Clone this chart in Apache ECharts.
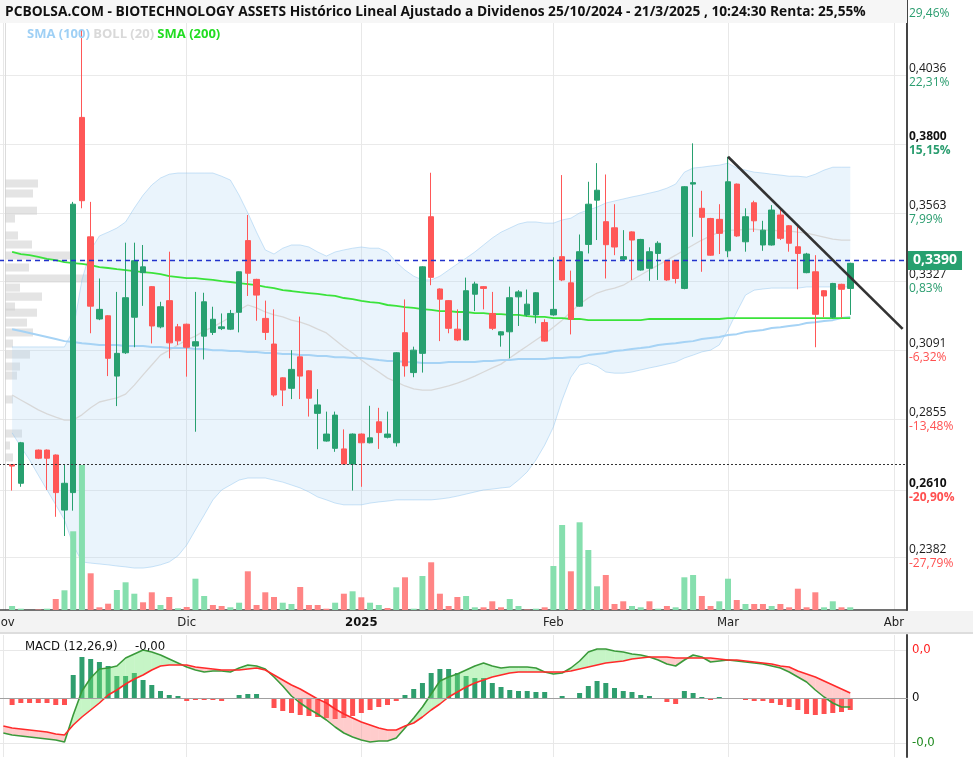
<!DOCTYPE html>
<html>
<head>
<meta charset="utf-8">
<title>BIOTECHNOLOGY ASSETS</title>
<script src="https://cdn.jsdelivr.net/npm/echarts@6/dist/echarts.min.js"></script>
<style>
html, body { margin: 0; padding: 0; background: #fff; }
#chart { width: 973px; height: 763px; }
</style>
</head>
<body>
<div id="chart"></div>
<script>
// sesiones BME 1/11/2024 - 21/3/2025 + hueco a la derecha hasta abril
var holidays = ['2024-12-25', '2024-12-26', '2025-01-01'];
var futureDays = ['2025-03-24', '2025-03-25', '2025-03-26', '2025-03-27', '2025-04-01', '2025-04-02'];
var monthNames = ['Ene', 'Feb', 'Mar', 'Abr', 'May', 'Jun', 'Jul', 'Ago', 'Sep', 'Oct', 'Nov', 'Dic'];

// [open, close, low, high], null = sin cotizacion
var candles = [
  null,
  [0.2699, 0.2694, 0.2610, 0.2701], [0.2635, 0.2774, 0.2623, 0.2777], null,
  [0.2749, 0.2721, 0.2718, 0.2751], [0.2749, 0.2721, 0.2612, 0.2751], [0.2732, 0.2603, 0.2520, 0.2734],
  [0.2543, 0.2635, 0.2454, 0.2698], [0.2603, 0.3593, 0.2541, 0.3601], [0.3891, 0.3605, 0.3579, 0.4191],
  [0.3481, 0.3243, 0.3150, 0.3601], [0.3199, 0.3232, 0.3195, 0.3338], [0.3210, 0.3064, 0.3003, 0.3212],
  [0.3003, 0.3081, 0.2900, 0.3292], [0.3083, 0.3272, 0.3079, 0.3461], [0.3205, 0.3399, 0.3102, 0.3461],
  [0.3358, 0.3378, 0.3244, 0.3453], [0.3310, 0.3175, 0.3115, 0.3312], [0.3172, 0.3241, 0.3167, 0.3258],
  [0.3262, 0.3117, 0.3064, 0.3430], [0.3172, 0.3124, 0.3110, 0.3182], [0.3181, 0.3102, 0.3001, 0.3183],
  [0.3106, 0.3121, 0.2812, 0.3292], [0.3140, 0.3258, 0.3060, 0.3289], [0.3153, 0.3198, 0.3144, 0.3241],
  [0.3166, 0.3172, 0.3161, 0.3218], [0.3164, 0.3218, 0.3161, 0.3230], [0.3222, 0.3361, 0.3153, 0.3362],
  [0.3468, 0.3356, 0.3278, 0.3556], [0.3335, 0.3281, 0.3193, 0.3337], [0.3201, 0.3153, 0.3127, 0.3262],
  [0.3113, 0.2938, 0.2932, 0.3232], [0.2997, 0.2955, 0.2900, 0.2999], [0.2961, 0.3026, 0.2924, 0.3092],
  [0.3069, 0.3003, 0.2924, 0.3207], [0.3021, 0.2927, 0.2864, 0.3023], [0.2875, 0.2904, 0.2752, 0.2958],
  [0.2780, 0.2804, 0.2778, 0.2881], [0.2755, 0.2869, 0.2743, 0.2881], [0.2753, 0.2701, 0.2700, 0.2820],
  [0.2701, 0.2804, 0.2610, 0.2806], [0.2804, 0.2774, 0.2623, 0.2806], [0.2774, 0.2791, 0.2772, 0.2901],
  [0.2846, 0.2809, 0.2753, 0.2894], [0.2793, 0.2804, 0.2789, 0.2881], [0.2774, 0.3083, 0.2761, 0.3085],
  [0.3152, 0.3038, 0.3001, 0.3266], [0.3015, 0.3092, 0.2999, 0.3104], [0.3081, 0.3378, 0.3015, 0.3380],
  [0.3550, 0.3342, 0.3315, 0.3701], [0.3302, 0.3267, 0.3123, 0.3304], [0.3262, 0.3167, 0.3150, 0.3264],
  [0.3164, 0.3127, 0.3123, 0.3232], [0.3127, 0.3296, 0.3125, 0.3341], [0.3284, 0.3319, 0.3226, 0.3327],
  [0.3310, 0.3304, 0.3232, 0.3312], [0.3218, 0.3167, 0.3161, 0.3292], [0.3144, 0.3155, 0.3104, 0.3157],
  [0.3155, 0.3272, 0.3064, 0.3310], [0.3275, 0.3292, 0.3175, 0.3298], [0.3213, 0.3250, 0.3207, 0.3300],
  [0.3213, 0.3289, 0.3184, 0.3291], [0.3187, 0.3123, 0.3121, 0.3198], [0.3213, 0.3232, 0.3210, 0.3411],
  [0.3413, 0.3333, 0.3329, 0.3693], [0.3323, 0.3198, 0.3146, 0.3365], [0.3243, 0.3430, 0.3241, 0.3489],
  [0.3455, 0.3593, 0.3424, 0.3670], [0.3607, 0.3641, 0.3470, 0.3734], [0.3533, 0.3454, 0.3338, 0.3695],
  [0.3512, 0.3446, 0.3418, 0.3593], [0.3404, 0.3413, 0.3401, 0.3504], [0.3498, 0.3470, 0.3333, 0.3500],
  [0.3367, 0.3472, 0.3365, 0.3474], [0.3373, 0.3430, 0.3330, 0.3445], [0.3424, 0.3459, 0.3333, 0.3466],
  [0.3399, 0.3333, 0.3330, 0.3401], [0.3399, 0.3338, 0.3321, 0.3401], [0.3304, 0.3653, 0.3301, 0.3655],
  [0.3662, 0.3667, 0.3481, 0.3802], [0.3579, 0.3548, 0.3361, 0.3639], [0.3544, 0.3418, 0.3416, 0.3546],
  [0.3541, 0.3493, 0.3422, 0.3593], [0.3433, 0.3670, 0.3411, 0.3756], [0.3662, 0.3484, 0.3481, 0.3664],
  [0.3464, 0.3550, 0.3430, 0.3579], [0.3598, 0.3536, 0.3498, 0.3605], [0.3453, 0.3504, 0.3433, 0.3536],
  [0.3453, 0.3573, 0.3451, 0.3590], [0.3556, 0.3476, 0.3470, 0.3573], [0.3519, 0.3459, 0.3430, 0.3521],
  [0.3447, 0.3424, 0.3301, 0.3516], [0.3358, 0.3422, 0.3356, 0.3426], [0.3361, 0.3215, 0.3102, 0.3418],
  [0.3296, 0.3278, 0.3205, 0.3298], [0.3205, 0.3321, 0.3201, 0.3323], [0.3318, 0.3301, 0.3203, 0.3320],
  [0.3304, 0.3390, 0.3213, 0.3392]
];

var volumes = [
  null, 4000, 1300, null, 500, 1300, 11000, 19700, 78700, 145000,
  36700, 2700, 6300, 20000, 27700, 16300, 7700, 17700, 5000, 13000,
  1700, 3000, 31300, 14000, 5000, 4000, 2700, 7300, 38700, 5000,
  17700, 13000, 7300, 6000, 23000, 5000, 5000, 1300, 7300, 16300,
  18700, 12700, 7300, 5000, 2000, 22700, 32700, 1300, 34000, 47700,
  16300, 4000, 13000, 14000, 2700, 2700, 8700, 2700, 11000, 4000,
  500, 1300, 2700, 44000, 85000, 38700, 87700, 60000, 23700, 35000,
  6000, 8700, 4000, 2700, 8700, 1300, 4000, 2700, 32700, 35000,
  14000, 4000, 8700, 31300, 10000, 6000, 6000, 6000, 4000, 6000,
  2700, 21300, 2700, 17700, 2700, 8700, 2700, 2700
];

var sma100 = [
  null, 0.3164, 0.3158, 0.3151, 0.3144, 0.3137, 0.3130, 0.3123, 0.3120, 0.3116,
  0.3113, 0.3110, 0.3110, 0.3110, 0.3106, 0.3106, 0.3106, 0.3103, 0.3103, 0.3099,
  0.3099, 0.3099, 0.3096, 0.3096, 0.3092, 0.3092, 0.3089, 0.3089, 0.3086, 0.3086,
  0.3082, 0.3082, 0.3079, 0.3079, 0.3075, 0.3075, 0.3072, 0.3072, 0.3068, 0.3068,
  0.3065, 0.3065, 0.3062, 0.3058, 0.3055, 0.3055, 0.3051, 0.3051, 0.3048, 0.3048,
  0.3048, 0.3051, 0.3051, 0.3051, 0.3051, 0.3055, 0.3055, 0.3058, 0.3058, 0.3062,
  0.3062, 0.3062, 0.3062, 0.3065, 0.3065, 0.3068, 0.3068, 0.3075, 0.3079, 0.3082,
  0.3089, 0.3092, 0.3096, 0.3099, 0.3103, 0.3110, 0.3113, 0.3116, 0.3120, 0.3123,
  0.3130, 0.3134, 0.3137, 0.3144, 0.3147, 0.3154, 0.3158, 0.3161, 0.3168, 0.3171,
  0.3175, 0.3178, 0.3185, 0.3188, 0.3192, 0.3195, 0.3202, 0.3206
];

var sma200 = [
  null, 0.3429, 0.3422, 0.3418, 0.3412, 0.3405, 0.3401, 0.3394, 0.3391, 0.3388,
  0.3384, 0.3377, 0.3374, 0.3370, 0.3367, 0.3363, 0.3360, 0.3357, 0.3353, 0.3346,
  0.3343, 0.3339, 0.3339, 0.3336, 0.3333, 0.3329, 0.3326, 0.3322, 0.3319, 0.3315,
  0.3309, 0.3305, 0.3298, 0.3295, 0.3291, 0.3288, 0.3285, 0.3281, 0.3278, 0.3271,
  0.3267, 0.3261, 0.3257, 0.3254, 0.3247, 0.3244, 0.3240, 0.3237, 0.3233, 0.3230,
  0.3226, 0.3226, 0.3223, 0.3223, 0.3219, 0.3219, 0.3216, 0.3216, 0.3213, 0.3213,
  0.3209, 0.3206, 0.3206, 0.3202, 0.3202, 0.3199, 0.3199, 0.3195, 0.3195, 0.3195,
  0.3195, 0.3195, 0.3195, 0.3195, 0.3199, 0.3199, 0.3199, 0.3199, 0.3199, 0.3199,
  0.3199, 0.3199, 0.3199, 0.3202, 0.3202, 0.3202, 0.3202, 0.3202, 0.3202, 0.3202,
  0.3202, 0.3202, 0.3202, 0.3202, 0.3202, 0.3202, 0.3202, 0.3202
];

var bollUp = [
  null, 0.3103, 0.3103, 0.3103, 0.3103, 0.3103, 0.3103, 0.3103, 0.3161, 0.3333,
  0.3436, 0.3484, 0.3497, 0.3511, 0.3532, 0.3580, 0.3624, 0.3659, 0.3683, 0.3696,
  0.3700, 0.3700, 0.3700, 0.3700, 0.3700, 0.3689, 0.3676, 0.3624, 0.3563, 0.3497,
  0.3436, 0.3422, 0.3442, 0.3453, 0.3453, 0.3446, 0.3429, 0.3415, 0.3429, 0.3436,
  0.3442, 0.3446, 0.3442, 0.3442, 0.3429, 0.3394, 0.3367, 0.3346, 0.3333, 0.3333,
  0.3346, 0.3367, 0.3388, 0.3408, 0.3429, 0.3453, 0.3477, 0.3497, 0.3511, 0.3525,
  0.3532, 0.3532, 0.3528, 0.3528, 0.3539, 0.3545, 0.3563, 0.3573, 0.3583, 0.3597,
  0.3604, 0.3611, 0.3618, 0.3624, 0.3631, 0.3638, 0.3648, 0.3662, 0.3703, 0.3717,
  0.3720, 0.3724, 0.3727, 0.3734, 0.3717, 0.3710, 0.3703, 0.3700, 0.3696, 0.3693,
  0.3689, 0.3689, 0.3686, 0.3696, 0.3710, 0.3720, 0.3720, 0.3720
];

var bollMid = [
  null, 0.2938, 0.2921, 0.2904, 0.2887, 0.2873, 0.2862, 0.2852, 0.2852, 0.2870,
  0.2894, 0.2914, 0.2921, 0.2928, 0.2941, 0.2972, 0.3007, 0.3041, 0.3075, 0.3092,
  0.3110, 0.3127, 0.3140, 0.3158, 0.3171, 0.3188, 0.3206, 0.3230, 0.3247, 0.3237,
  0.3223, 0.3213, 0.3206, 0.3195, 0.3188, 0.3178, 0.3164, 0.3151, 0.3127, 0.3103,
  0.3082, 0.3058, 0.3037, 0.3017, 0.2996, 0.2983, 0.2969, 0.2959, 0.2955, 0.2955,
  0.2962, 0.2969, 0.2979, 0.2990, 0.3003, 0.3017, 0.3031, 0.3044, 0.3065, 0.3086,
  0.3106, 0.3127, 0.3147, 0.3171, 0.3195, 0.3223, 0.3250, 0.3271, 0.3288, 0.3298,
  0.3305, 0.3315, 0.3333, 0.3350, 0.3367, 0.3384, 0.3401, 0.3418, 0.3436, 0.3453,
  0.3470, 0.3484, 0.3497, 0.3504, 0.3504, 0.3507, 0.3507, 0.3504, 0.3504, 0.3501,
  0.3501, 0.3497, 0.3494, 0.3487, 0.3480, 0.3473, 0.3470, 0.3470
];

var bollLow = [
  null, 0.2808, 0.2760, 0.2715, 0.2663, 0.2612, 0.2561, 0.2509, 0.2423, 0.2365,
  0.2361, 0.2358, 0.2355, 0.2351, 0.2348, 0.2344, 0.2344, 0.2348, 0.2355, 0.2365,
  0.2386, 0.2423, 0.2475, 0.2526, 0.2578, 0.2612, 0.2629, 0.2646, 0.2653, 0.2653,
  0.2653, 0.2646, 0.2639, 0.2629, 0.2619, 0.2605, 0.2588, 0.2578, 0.2567, 0.2561,
  0.2561, 0.2561, 0.2567, 0.2571, 0.2574, 0.2578, 0.2578, 0.2578, 0.2578, 0.2578,
  0.2581, 0.2585, 0.2591, 0.2598, 0.2605, 0.2612, 0.2615, 0.2619, 0.2622, 0.2646,
  0.2674, 0.2715, 0.2766, 0.2828, 0.2921, 0.2999, 0.3041, 0.3048, 0.3037, 0.3017,
  0.3013, 0.3013, 0.3017, 0.3024, 0.3031, 0.3037, 0.3044, 0.3051, 0.3065, 0.3075,
  0.3086, 0.3092, 0.3110, 0.3161, 0.3223, 0.3281, 0.3298, 0.3302, 0.3305, 0.3305,
  0.3305, 0.3305, 0.3309, 0.3309, 0.3309, 0.3309, 0.3309, 0.3309
];

// MACD (12,26,9)
var macdLine = [
  -0.0035, -0.0037, -0.0038, -0.0039, -0.0040, -0.0041, -0.0042, -0.0044, -0.0017, 0.0007,
  0.0020, 0.0029, 0.0030, 0.0032, 0.0040, 0.0044, 0.0048, 0.0046, 0.0043, 0.0039,
  0.0035, 0.0031, 0.0028, 0.0026, 0.0027, 0.0027, 0.0026, 0.0030, 0.0033, 0.0032,
  0.0029, 0.0021, 0.0012, 0.0002, -0.0005, -0.0011, -0.0016, -0.0022, -0.0029, -0.0035,
  -0.0039, -0.0042, -0.0044, -0.0043, -0.0043, -0.0040, -0.0030, -0.0020, -0.0009, 0.0004,
  0.0017, 0.0021, 0.0024, 0.0028, 0.0032, 0.0035, 0.0032, 0.0030, 0.0031, 0.0031,
  0.0031, 0.0030, 0.0026, 0.0024, 0.0025, 0.0030, 0.0037, 0.0046, 0.0049, 0.0049,
  0.0047, 0.0046, 0.0044, 0.0043, 0.0041, 0.0038, 0.0034, 0.0032, 0.0038, 0.0043,
  0.0041, 0.0036, 0.0037, 0.0038, 0.0037, 0.0036, 0.0035, 0.0034, 0.0032, 0.0030,
  0.0026, 0.0021, 0.0016, 0.0008, 0.0001, -0.0005, -0.0009, -0.0009
];
var signalLine = [
  -0.0028, -0.0030, -0.0031, -0.0032, -0.0033, -0.0034, -0.0036, -0.0037, -0.0027, -0.0019,
  -0.0012, -0.0005, 0.0003, 0.0008, 0.0014, 0.0019, 0.0023, 0.0028, 0.0032, 0.0033,
  0.0033, 0.0033, 0.0031, 0.0030, 0.0029, 0.0028, 0.0028, 0.0028, 0.0029, 0.0030,
  0.0028, 0.0023, 0.0018, 0.0013, 0.0009, 0.0004, -0.0001, -0.0005, -0.0011, -0.0016,
  -0.0020, -0.0024, -0.0027, -0.0030, -0.0032, -0.0032, -0.0028, -0.0025, -0.0019, -0.0012,
  -0.0006, 0.0001, 0.0006, 0.0011, 0.0015, 0.0018, 0.0021, 0.0023, 0.0025, 0.0026,
  0.0026, 0.0026, 0.0026, 0.0026, 0.0026, 0.0027, 0.0029, 0.0031, 0.0033, 0.0035,
  0.0036, 0.0037, 0.0039, 0.0040, 0.0041, 0.0041, 0.0041, 0.0040, 0.0040, 0.0040,
  0.0040, 0.0040, 0.0039, 0.0038, 0.0038, 0.0037, 0.0036, 0.0035, 0.0034, 0.0032,
  0.0031, 0.0027, 0.0024, 0.0021, 0.0017, 0.0013, 0.0009, 0.0005
];
var macdHist = [
  null, -0.0007, -0.0005, -0.0005, -0.0005, -0.0005, -0.0007, -0.0007, 0.0023, 0.0041,
  0.0039, 0.0036, 0.0032, 0.0022, 0.0022, 0.0025, 0.0018, 0.0013, 0.0007, 0.0003,
  0.0002, -0.0003, -0.0002, -0.0002, -0.0002, -0.0003, -0.0001, 0.0003, 0.0004, 0.0004,
  -0.0001, -0.0010, -0.0013, -0.0015, -0.0017, -0.0018, -0.0019, -0.0020, -0.0021, -0.0020,
  -0.0018, -0.0015, -0.0012, -0.0009, -0.0007, -0.0003, 0.0003, 0.0009, 0.0015, 0.0025,
  0.0029, 0.0029, 0.0025, 0.0022, 0.0020, 0.0020, 0.0015, 0.0011, 0.0008, 0.0007,
  0.0007, 0.0006, 0.0006, -0.0001, 0.0002, -0.0001, 0.0005, 0.0012, 0.0017, 0.0015,
  0.0010, 0.0007, 0.0006, 0.0003, 0.0002, -0.0001, -0.0004, -0.0006, 0.0007, 0.0005,
  0.0001, -0.0002, 0.0001, 0.0000, -0.0001, -0.0002, -0.0003, -0.0003, -0.0005, -0.0007,
  -0.0009, -0.0012, -0.0016, -0.0017, -0.0016, -0.0015, -0.0014, -0.0012
];

// volumen por precio (barras grises de la izquierda)
var profilePrice = [0.3662, 0.3628, 0.3569, 0.3542, 0.3484, 0.3453, 0.3415, 0.3374, 0.3336, 0.3305, 0.3274, 0.3240,
  0.3219, 0.3185, 0.3151, 0.3113, 0.3075, 0.3034, 0.3003, 0.2921, 0.2804, 0.2763, 0.2722];
var profileVol = [33000, 28000, 32000, 10000, 13000, 27000, 65000, 24000, 82000, 15000, 37000, 10000,
  32000, 22000, 28000, 8000, 25000, 15000, 12000, 8000, 17000, 5000, 8000];
var profileBin = 0.0031;

// eje de precios (derecha)
var priceTicks = [0.2382, 0.2610, 0.2855, 0.3091, 0.3327, 0.3563, 0.3800, 0.4036, 0.4272];
var priceTickText = ['0,2382', '0,2610', '0,2855', '0,3091', '0,3327', '0,3563', '0,3800', '0,4036', ''];
var pctTickText = ['-27,79%', '-20,90%', '-13,48%', '-6,32%', '0,83%', '7,99%', '15,15%', '22,31%', '29,46%'];
var boldTicks = [0.2610, 0.3800];
var macdTicks = [-0.0045, 0, 0.0048];
var macdTickText = ['-0,0', '0', '0,0'];

var lastPrice = 0.3390;
var basePrice = 0.2700;
var trendFrom = ['2025-03-03', 0.3756];
var trendTo = ['2025-04-02', 0.3165];

var titleText = 'PCBOLSA.COM - BIOTECHNOLOGY ASSETS Histórico Lineal Ajustado a Dividenos 25/10/2024 - 21/3/2025 , 10:24:30 Renta: 25,55%';

function tradingDays(from, to, skip) {
    var out = [];
    var d = new Date(from + 'T00:00:00Z');
    var end = new Date(to + 'T00:00:00Z');
    while (d <= end) {
        var wd = d.getUTCDay();
        var s = d.toISOString().slice(0, 10);
        if (wd !== 0 && wd !== 6 && skip.indexOf(s) < 0) {
            out.push(s);
        }
        d.setUTCDate(d.getUTCDate() + 1);
    }
    return out;
}

var days = tradingDays('2024-11-01', '2025-03-21', holidays).concat(futureDays);

function isMonthStart(i) {
    return i === 0 || days[i].slice(5, 7) !== days[i - 1].slice(5, 7);
}

function monthLabel(value) {
    var m = parseInt(value.slice(5, 7), 10);
    if (m === 1) {
        return '{y|' + value.slice(0, 4) + '}';
    }
    return monthNames[m - 1];
}

function priceLabel(value) {
    for (var i = 0; i < priceTicks.length; i++) {
        if (Math.abs(priceTicks[i] - value) < 1e-6) {
            var bold = boldTicks.indexOf(priceTicks[i]) >= 0 ? 'b' : '';
            var pc = pctTickText[i].charAt(0) === '-' ? 'r' : 'g';
            return '{p' + bold + '|' + (priceTickText[i] || ' ') + '}\n{' + pc + bold + '|' + pctTickText[i] + '}';
        }
    }
    return '';
}

function macdLabel(value) {
    for (var i = 0; i < macdTicks.length; i++) {
        if (Math.abs(macdTicks[i] - value) < 1e-9) {
            var st = macdTicks[i] > 0 ? 'r' : (macdTicks[i] < 0 ? 'v' : 'k');
            return '{' + st + '|' + macdTickText[i] + '}';
        }
    }
    return '';
}

// color del volumen segun cierre vs cierre anterior
function volumeColors() {
    var cols = [];
    var prev = null;
    for (var i = 0; i < candles.length; i++) {
        if (!candles[i]) { cols.push(null); continue; }
        var c = candles[i][1];
        cols.push(prev === null || c >= prev ? '#86dfae' : '#ff8585');
        prev = c;
    }
    return cols;
}
var volCols = volumeColors();

var narrowFont = "'Liberation Sans Narrow', 'DejaVu Sans Condensed', 'Arial Narrow', sans-serif";
var mainFont = "'Open Sans', 'Noto Sans', sans-serif";

function renderProfile(params, api) {
    var v = api.value(0), p = api.value(1);
    var a = api.coord([0, p + profileBin / 2]);
    var b = api.coord([v, p - profileBin / 2]);
    return {
        type: 'rect',
        shape: { x: a[0], y: a[1], width: b[0] - a[0], height: b[1] - a[1] - 1 },
        style: { fill: 'rgba(205,205,205,0.55)' }
    };
}

function renderMacdFill(params, api) {
    var i = params.dataIndex;
    if (i >= macdLine.length - 1) return;
    var m0 = api.coord([i, macdLine[i]]), m1 = api.coord([i + 1, macdLine[i + 1]]);
    var s0 = api.coord([i, signalLine[i]]), s1 = api.coord([i + 1, signalLine[i + 1]]);
    var d0 = macdLine[i] - signalLine[i], d1 = macdLine[i + 1] - signalLine[i + 1];
    var up = 'rgba(120,230,120,0.42)', dn = 'rgba(255,120,120,0.38)';
    if (d0 * d1 >= 0) {
        return { type: 'polygon', shape: { points: [m0, m1, s1, s0] }, style: { fill: (d0 + d1) >= 0 ? up : dn } };
    }
    var t = d0 / (d0 - d1);
    var c = [m0[0] + (m1[0] - m0[0]) * t, m0[1] + (m1[1] - m0[1]) * t];
    return {
        type: 'group',
        children: [
            { type: 'polygon', shape: { points: [m0, c, s0] }, style: { fill: d0 > 0 ? up : dn } },
            { type: 'polygon', shape: { points: [c, m1, s1] }, style: { fill: d1 > 0 ? up : dn } }
        ]
    };
}

function monthAxis(gridIndex, labels, lineColor) {
    return {
        type: 'category',
        gridIndex: gridIndex,
        data: days,
        boundaryGap: true,
        axisTick: { show: false },
        axisLine: { show: true, lineStyle: { color: lineColor, width: labels ? 1.5 : 1 } },
        axisLabel: {
            show: labels,
            interval: function (i) { return isMonthStart(i); },
            formatter: monthLabel,
            margin: 6,
            fontFamily: narrowFont,
            fontSize: 13,
            color: '#222',
            rich: { y: { fontFamily: narrowFont, fontSize: 13, fontWeight: 'bold', color: '#111' } }
        },
        splitLine: {
            show: true,
            interval: function (i) { return isMonthStart(i); },
            alignWithLabel: true,
            lineStyle: { color: '#e8e8e8' }
        }
    };
}

var richPrice = {
    p: { color: '#1a1a1a', fontSize: 12, lineHeight: 14, fontFamily: mainFont },
    pb: { color: '#111', fontSize: 12, lineHeight: 14, fontFamily: mainFont, fontWeight: 'bold' },
    g: { color: '#2a9d6f', fontSize: 12, lineHeight: 14, fontFamily: mainFont },
    gb: { color: '#2a9d6f', fontSize: 12, lineHeight: 14, fontFamily: mainFont, fontWeight: 'bold' },
    r: { color: '#ff5050', fontSize: 12, lineHeight: 14, fontFamily: mainFont },
    rb: { color: '#ff5050', fontSize: 12, lineHeight: 14, fontFamily: mainFont, fontWeight: 'bold' }
};

var chart = echarts.init(document.getElementById('chart'));

var option = {
    animation: false,
    backgroundColor: '#fff',
    grid: [
        { left: -1, right: 66, top: 0, height: 610, outerBoundsMode: 'none', containLabel: false },
        { left: -1, right: 66, top: 0, height: 610, outerBoundsMode: 'none', containLabel: false },
        { left: 5, right: 66, top: 0, height: 610, outerBoundsMode: 'none', containLabel: false },
        { left: -1, right: 66, top: 635, height: 122, outerBoundsMode: 'none', containLabel: false }
    ],
    xAxis: [
        monthAxis(0, true, '#444'),
        { type: 'category', gridIndex: 1, data: days, show: false },
        { type: 'value', gridIndex: 2, min: 0, max: 902000, show: false },
        monthAxis(3, false, '#d6d6d6')
    ],
    yAxis: [
        {
            type: 'value', gridIndex: 0, position: 'right', min: 0.2200, max: 0.4294,
            axisLine: { show: true, lineStyle: { color: '#444', width: 2 } },
            axisTick: { show: false, customValues: priceTicks },
            splitLine: { show: true, lineStyle: { color: '#eaeaea' } },
            axisLabel: { customValues: priceTicks, formatter: priceLabel, margin: 2, rich: richPrice }
        },
        { type: 'value', gridIndex: 1, min: 0, max: 610000, show: false },
        {
            type: 'value', gridIndex: 2, position: 'left', min: 0.2200, max: 0.4294,
            axisLine: { show: true, lineStyle: { color: '#dcdcdc' } },
            axisTick: { show: false }, axisLabel: { show: false }, splitLine: { show: false }
        },
        {
            type: 'value', gridIndex: 3, position: 'right', min: -0.0059, max: 0.0063,
            axisLine: { show: true, lineStyle: { color: '#444', width: 2 } },
            axisTick: { show: false, customValues: macdTicks },
            splitLine: { show: true, lineStyle: { color: '#e8e8e8' } },
            axisLabel: {
                customValues: macdTicks, formatter: macdLabel, margin: 5,
                rich: {
                    r: { color: '#ff1f1f', fontFamily: narrowFont, fontSize: 13 },
                    k: { color: '#111', fontFamily: narrowFont, fontSize: 13 },
                    v: { color: '#1f8a1f', fontFamily: narrowFont, fontSize: 13 }
                }
            }
        }
    ],
    graphic: [
        { type: 'rect', left: 0, top: 611, shape: { width: 973, height: 21 }, style: { fill: '#f3f3f3' }, z: -1, silent: true },
        { type: 'rect', left: 0, top: 632, shape: { width: 973, height: 2 }, style: { fill: '#dddddd' }, z: -1, silent: true },
        { type: 'rect', left: 0, top: 0, shape: { width: 907, height: 23 }, style: { fill: '#f6f6f6' }, z: 10, silent: true },
        { type: 'text', left: 5, top: 5, z: 11, style: { text: titleText, fill: '#111', font: 'bold 13.75px ' + mainFont } },
        {
            type: 'text', left: 27, top: 28, z: 11,
            style: {
                text: '{a|SMA (100)} {b|BOLL (20)} {c|SMA (200)}',
                rich: {
                    a: { fill: '#9fd0f5', font: 'bold 13px ' + mainFont },
                    b: { fill: '#d9d9d9', font: 'bold 13px ' + mainFont },
                    c: { fill: '#22dd22', font: 'bold 13px ' + mainFont }
                }
            }
        },
        { type: 'text', left: 25, top: 640, z: 11, style: { text: 'MACD (12,26,9)', fill: '#111', font: '13px ' + narrowFont } },
        { type: 'text', left: 135, top: 640, z: 11, style: { text: '-0,00', fill: '#111', font: '13px ' + narrowFont } }
    ],
    series: [
        {
            name: 'Perfil', type: 'custom', xAxisIndex: 2, yAxisIndex: 2, z: 1, silent: true,
            renderItem: renderProfile,
            data: profilePrice.map(function (p, i) { return [profileVol[i], p]; })
        },
        {
            name: 'BOLL inf', type: 'line', xAxisIndex: 0, yAxisIndex: 0, stack: 'boll', z: 1,
            data: bollLow, symbol: 'none', silent: true,
            lineStyle: { color: 'rgba(150,200,240,0.5)', width: 1 }
        },
        {
            name: 'BOLL sup', type: 'line', xAxisIndex: 0, yAxisIndex: 0, stack: 'boll', z: 1,
            data: bollUp.map(function (u, i) { return u === null ? null : +(u - bollLow[i]).toFixed(4); }),
            symbol: 'none', silent: true,
            lineStyle: { color: 'rgba(150,200,240,0.5)', width: 1 },
            areaStyle: { color: 'rgba(175,215,245,0.38)' }
        },
        {
            name: 'Volumen', type: 'bar', xAxisIndex: 1, yAxisIndex: 1, z: 2, barWidth: 6,
            data: volumes.map(function (v, i) { return v === null ? null : { value: v, itemStyle: { color: volCols[i] } }; })
        },
        {
            name: 'BOLL (20)', type: 'line', xAxisIndex: 0, yAxisIndex: 0, z: 3, data: bollMid,
            symbol: 'none', lineStyle: { color: '#d8d8d8', width: 1.3 }
        },
        {
            name: 'SMA (100)', type: 'line', xAxisIndex: 0, yAxisIndex: 0, z: 3, data: sma100,
            symbol: 'none', lineStyle: { color: '#a6d3f5', width: 2 }
        },
        {
            name: 'SMA (200)', type: 'line', xAxisIndex: 0, yAxisIndex: 0, z: 3, data: sma200,
            symbol: 'none', lineStyle: { color: '#3be33b', width: 1.8 }
        },
        {
            name: 'BIOTECHNOLOGY ASSETS', type: 'candlestick', xAxisIndex: 0, yAxisIndex: 0, z: 4,
            barWidth: 6,
            data: candles.map(function (c) { return c ? c : '-'; }),
            itemStyle: { color: '#27a06f', color0: '#ff5757', borderColor: '#27a06f', borderColor0: '#ff5757', borderWidth: 1 },
            markLine: {
                symbol: ['none', 'none'], silent: true, animation: false,
                data: [
                    {
                        yAxis: lastPrice,
                        lineStyle: { color: '#2233cc', type: [5, 4], width: 1.3 },
                        label: {
                            show: true, position: 'end', distance: 1, formatter: '0,3390',
                            color: '#fff', backgroundColor: '#27a06f', padding: [3, 5, 2, 5],
                            fontSize: 14, fontWeight: 'bold', fontFamily: mainFont
                        }
                    },
                    {
                        yAxis: basePrice,
                        lineStyle: { color: '#333', type: [2, 2], width: 1.2 },
                        label: { show: false }
                    },
                    [
                        { coord: trendFrom, lineStyle: { color: '#333', type: 'solid', width: 2.6 }, label: { show: false } },
                        { coord: trendTo }
                    ]
                ]
            }
        },
        {
            name: 'Histograma', type: 'bar', xAxisIndex: 3, yAxisIndex: 3, z: 2, barWidth: 5,
            data: macdHist.map(function (v) {
                return v === null ? null : { value: v, itemStyle: { color: v >= 0 ? '#2f9e6e' : '#ff5050' } };
            }),
            markLine: {
                symbol: ['none', 'none'], silent: true, animation: false,
                data: [{ yAxis: 0 }],
                lineStyle: { color: '#a0a0a0', type: 'solid', width: 1 },
                label: { show: false }
            }
        },
        {
            name: 'Relleno MACD', type: 'custom', xAxisIndex: 3, yAxisIndex: 3, z: 3, silent: true,
            renderItem: renderMacdFill,
            data: macdLine.map(function (v, i) { return [i, v]; })
        },
        {
            name: 'MACD', type: 'line', xAxisIndex: 3, yAxisIndex: 3, z: 4, data: macdLine,
            symbol: 'none', lineStyle: { color: '#3a9a3a', width: 1.6 }
        },
        {
            name: 'Señal', type: 'line', xAxisIndex: 3, yAxisIndex: 3, z: 4, data: signalLine,
            symbol: 'none', lineStyle: { color: '#ff2a2a', width: 1.6 }
        }
    ]
};

chart.setOption(option);
</script>
</body>
</html>
